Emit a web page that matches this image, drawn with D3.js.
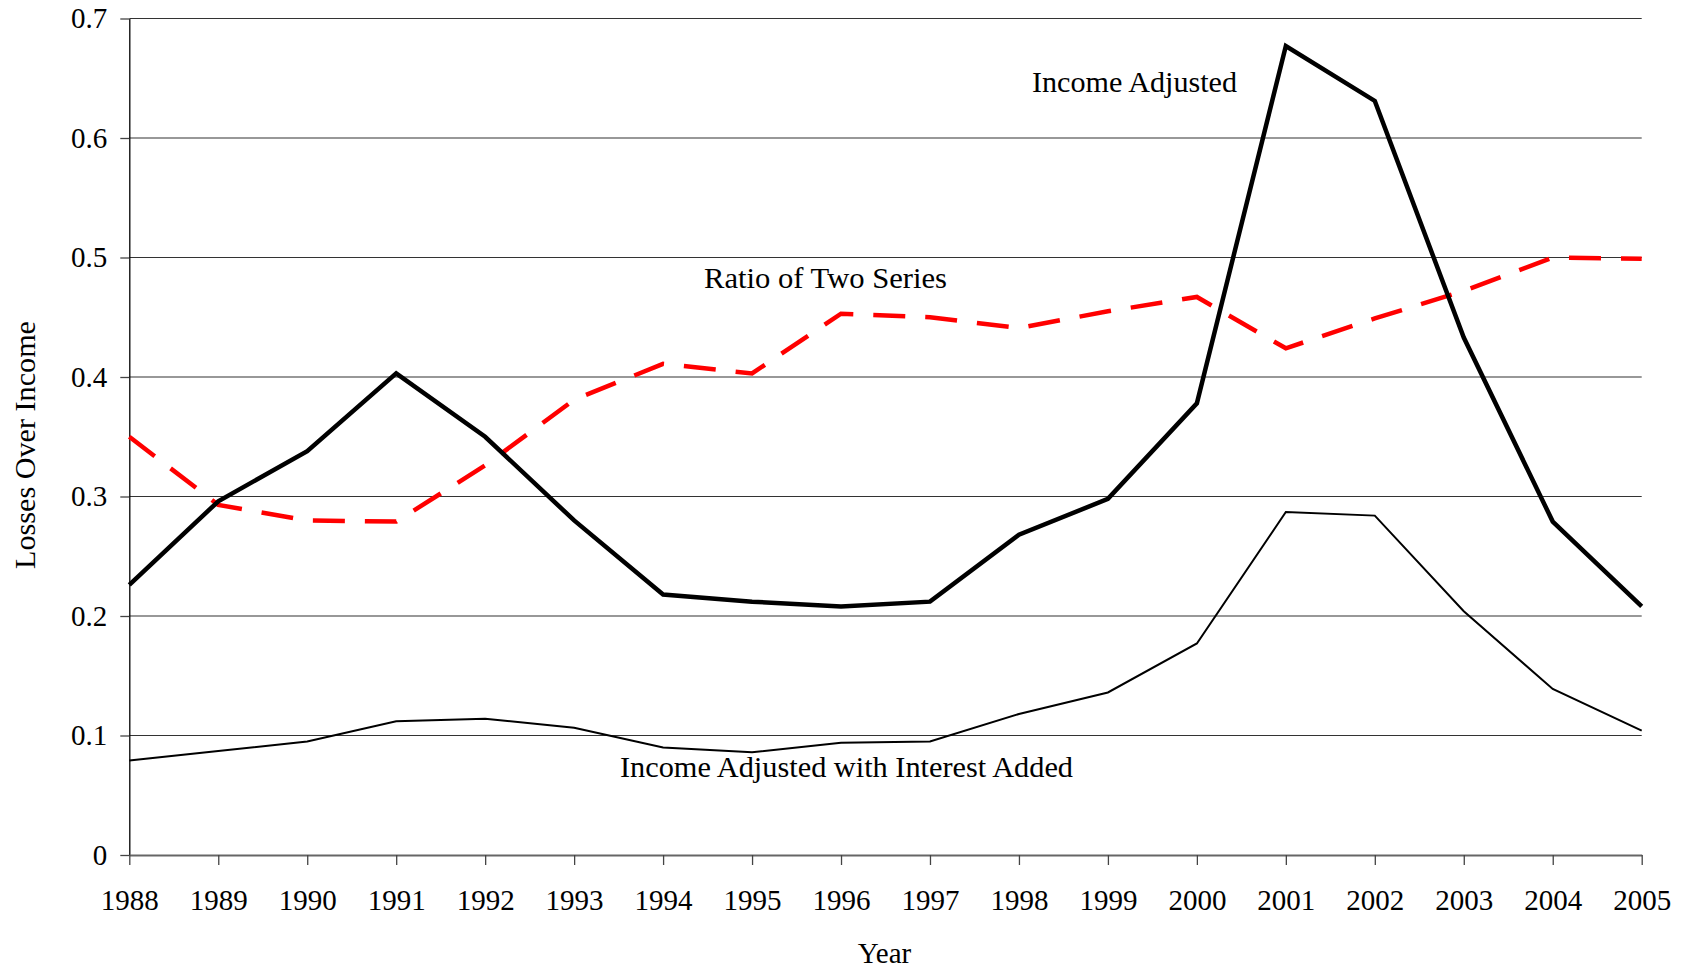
<!DOCTYPE html>
<html>
<head>
<meta charset="utf-8">
<script src="https://cdn.jsdelivr.net/npm/d3@7"></script>
<style>
  body { margin: 0; background: #fff; }
  svg text { font-family: "Liberation Serif", "Times New Roman", serif; fill: #000; }
</style>
</head>
<body>
<svg id="chart" width="1688" height="969"></svg>
<script>
// data
var years = [1988, 1989, 1990, 1991, 1992, 1993, 1994, 1995, 1996, 1997, 1998, 1999, 2000, 2001, 2002, 2003, 2004, 2005];
var incomeAdjusted = [0.226, 0.296, 0.338, 0.403, 0.350, 0.280, 0.218, 0.212, 0.208, 0.212, 0.268, 0.298, 0.378, 0.677, 0.631, 0.433, 0.279, 0.208];
var ratioTwoSeries = [0.350, 0.293, 0.280, 0.279, 0.326, 0.381, 0.411, 0.403, 0.453, 0.450, 0.441, 0.455, 0.467, 0.424, 0.449, 0.472, 0.500, 0.499];
var withInterest = [0.079, 0.087, 0.095, 0.112, 0.114, 0.1065, 0.090, 0.086, 0.094, 0.095, 0.118, 0.136, 0.177, 0.287, 0.284, 0.204, 0.139, 0.104];
var yTicks = [0, 0.1, 0.2, 0.3, 0.4, 0.5, 0.6, 0.7];

var svg = d3.select("#chart");
var plotLeft = 129.3, plotRight = 1641.7, plotTop = 18.5, plotBottom = 855;

var x = d3.scaleLinear().domain([1988, 2005]).range([plotLeft, plotRight]);
var y = d3.scaleLinear().domain([0, 0.7]).range([plotBottom, plotTop]);

// gridlines
svg.append("g")
    .selectAll("line")
    .data(yTicks.slice(1))
    .enter()
    .append("line")
    .attr("x1", plotLeft)
    .attr("x2", plotRight)
    .attr("y1", function (d) { return y(d); })
    .attr("y2", function (d) { return y(d); })
    .attr("stroke", "#333")
    .attr("stroke-width", 1.2);

// y axis
var yAxis = svg.append("g")
    .attr("transform", "translate(" + plotLeft + ",0)")
    .call(d3.axisLeft(y).tickValues(yTicks).tickSize(9).tickSizeOuter(0).tickPadding(13)
        .tickFormat(function (d) { return d === 0 ? "0" : d3.format(".1f")(d); }));
yAxis.select(".domain").attr("stroke", "#000").attr("stroke-width", 1.3);
yAxis.selectAll(".tick line").attr("stroke", "#444").attr("stroke-width", 1.3);
yAxis.selectAll("text").attr("font-size", 29).attr("font-family", "Liberation Serif").attr("fill", "#000");

// x axis
var xAxis = svg.append("g")
    .attr("transform", "translate(0," + plotBottom + ")")
    .call(d3.axisBottom(x).tickValues(years).tickSize(10).tickSizeOuter(0).tickPadding(24)
        .tickFormat(d3.format("d")));
xAxis.select(".domain").attr("stroke", "#666").attr("stroke-width", 2);
xAxis.selectAll(".tick line").attr("stroke", "#444").attr("stroke-width", 1.3);
xAxis.selectAll("text").attr("font-size", 29).attr("font-family", "Liberation Serif").attr("fill", "#000");

function series(vals) {
    return d3.line()
        .x(function (d, i) { return x(years[i]); })
        .y(function (d) { return y(d); })(vals);
}

svg.append("path")
    .attr("d", series(withInterest))
    .attr("fill", "none")
    .attr("stroke", "#000")
    .attr("stroke-width", 2);

svg.append("path")
    .attr("d", series(ratioTwoSeries))
    .attr("fill", "none")
    .attr("stroke", "#ff0000")
    .attr("stroke-width", 4.5)
    .attr("stroke-dasharray", "32,20");

svg.append("path")
    .attr("d", series(incomeAdjusted))
    .attr("fill", "none")
    .attr("stroke", "#000")
    .attr("stroke-width", 4.5)
    .attr("stroke-linejoin", "miter");

// series labels
function label(txt, x0, base, w) {
    svg.append("text")
        .attr("x", x0)
        .attr("y", base)
        .attr("font-size", 30)
        .attr("textLength", w)
        .attr("lengthAdjust", "spacingAndGlyphs")
        .text(txt);
}
label("Income Adjusted", 1032, 92, 205);
label("Ratio of Two Series", 704, 288, 243);
label("Income Adjusted with Interest Added", 620, 777, 453);

// axis titles
svg.append("text")
    .attr("x", (plotLeft + plotRight) / 2 - 1)
    .attr("y", 963)
    .attr("text-anchor", "middle")
    .attr("font-size", 29)
    .text("Year");

svg.append("text")
    .attr("transform", "translate(35,445) rotate(-90)")
    .attr("text-anchor", "middle")
    .attr("font-size", 29)
    .attr("textLength", 248)
    .attr("lengthAdjust", "spacingAndGlyphs")
    .text("Losses Over Income");
</script>
</body>
</html>
